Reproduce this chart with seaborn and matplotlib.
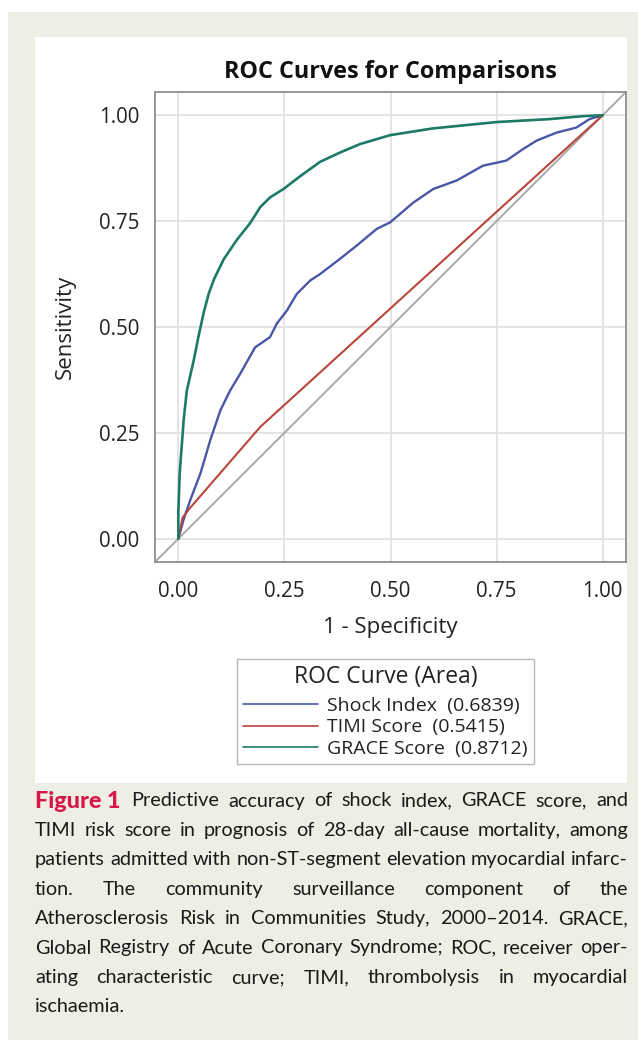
import numpy as np
import pandas as pd
import matplotlib
matplotlib.use("Agg")
import matplotlib.pyplot as plt
import seaborn as sns
from matplotlib.patches import Rectangle
from matplotlib.lines import Line2D

# ---------------- data ----------------
TITLE = "ROC Curves for Comparisons"
X_LABEL = "1 - Specificity"
Y_LABEL = "Sensitivity"
TICKS = [0.0, 0.25, 0.5, 0.75, 1.0]
TICK_LABELS = ["0.00", "0.25", "0.50", "0.75", "1.00"]
LEGEND_TITLE = "ROC Curve (Area)"
SERIES = ["Shock Index", "TIMI Score", "GRACE Score"]
AUC = [0.6839, 0.5415, 0.8712]

shock_fpr = [0, 0.012, 0.028, 0.052, 0.075, 0.099, 0.122, 0.146, 0.181, 0.216,
             0.232, 0.256, 0.279, 0.311, 0.334, 0.381, 0.420, 0.468, 0.499,
             0.554, 0.601, 0.656, 0.718, 0.773, 0.812, 0.844, 0.891, 0.938,
             0.969, 1.0]
shock_tpr = [0, 0.044, 0.091, 0.154, 0.232, 0.303, 0.350, 0.390, 0.452, 0.476,
             0.508, 0.539, 0.578, 0.610, 0.625, 0.661, 0.692, 0.732, 0.747,
             0.794, 0.826, 0.846, 0.881, 0.893, 0.920, 0.940, 0.959, 0.971,
             0.991, 1.0]

timi_fpr = [0, 0.010, 0.027, 0.193, 1.0]
timi_tpr = [0, 0.050, 0.072, 0.264, 1.0]

grace_fpr = [0, 0, 0.003, 0.005, 0.009, 0.0125, 0.020, 0.028, 0.036, 0.048,
             0.060, 0.072, 0.085, 0.107, 0.138, 0.169, 0.193, 0.216, 0.248,
             0.287, 0.334, 0.381, 0.428, 0.499, 0.600, 0.750, 0.875, 0.954, 1.0]
grace_tpr = [0, 0.060, 0.150, 0.180, 0.232, 0.280, 0.350, 0.385, 0.420, 0.480,
             0.535, 0.580, 0.615, 0.660, 0.706, 0.745, 0.783, 0.806, 0.826,
             0.856, 0.890, 0.912, 0.932, 0.953, 0.969, 0.984, 0.991, 0.998, 1.0]

COLORS = ["#4A56A6", "#B8463C", "#1C7A66"]

CAPTION_HEAD = "Figure 1"
CAPTION_LINES = [
    "Predictive accuracy of shock index, GRACE score, and",
    "TIMI risk score in prognosis of 28-day all-cause mortality, among",
    "patients admitted with non-ST-segment elevation myocardial infarc-",
    "tion. The community surveillance component of the",
    "Atherosclerosis Risk in Communities Study, 2000–2014. GRACE,",
    "Global Registry of Acute Coronary Syndrome; ROC, receiver oper-",
    "ating characteristic curve; TIMI, thrombolysis in myocardial",
    "ischaemia.",
]

# ---------------- figure ----------------
sns.set_theme(style="white")
plt.rcParams["font.family"] = ["Open Sans", "DejaVu Sans"]

W, H = 638, 1040
fig = plt.figure(figsize=(W / 100, H / 100), dpi=100)
fig.patch.set_facecolor("white")

def fx(px):
    return px / W

def fy(py):
    return 1 - py / H

BEIGE = "#EFEEE4"
fig.patches.append(Rectangle((fx(8), 0), 1 - fx(8), fy(12), transform=fig.transFigure,
                             facecolor=BEIGE, edgecolor="none", zorder=-10))
fig.patches.append(Rectangle((fx(35), fy(783)), fx(627) - fx(35), fy(37) - fy(783),
                             transform=fig.transFigure, facecolor="white",
                             edgecolor="none", zorder=-9))

ax_l, ax_r, ax_t, ax_b = 155, 626, 92, 562
ax = fig.add_axes([fx(ax_l), fy(ax_b), fx(ax_r) - fx(ax_l), fy(ax_t) - fy(ax_b)])
ax.set_facecolor("white")

lim = (-0.055, 1.055)
ax.set_xlim(lim)
ax.set_ylim(lim)

ax.axline((0, 0), (1, 1), color="#A9A9A9", lw=1.4, zorder=1)

series_data = [(shock_fpr, shock_tpr), (timi_fpr, timi_tpr), (grace_fpr, grace_tpr)]
lws = [1.7, 1.5, 1.9]
for (xs, ys), c, lw in zip(series_data, COLORS, lws):
    sns.lineplot(x=xs, y=ys, sort=False, estimator=None, color=c, lw=lw, ax=ax,
                 legend=False, zorder=3)

ax.set_xticks(TICKS)
ax.set_xticklabels(TICK_LABELS)
ax.set_yticks(TICKS)
ax.set_yticklabels(TICK_LABELS)
ax.grid(True, color="#E2E2E2", lw=1.3)
ax.set_axisbelow(True)
for s in ax.spines.values():
    s.set_color("#8E8E8E")
    s.set_linewidth(1.3)
ax.tick_params(axis="both", direction="out", length=7, width=1.1, color="#8E8E8E",
               labelsize=14.8, labelcolor="#222222")
ax.tick_params(axis="x", pad=7)
ax.tick_params(axis="y", pad=4)

ax.set_title(TITLE, fontsize=16.8, fontweight="bold", color="#111111", pad=10)
ax.set_xlabel(X_LABEL, fontsize=16, color="#222222")
ax.set_ylabel(Y_LABEL, fontsize=16, color="#222222")
ax.xaxis.set_label_coords(0.5, (ax_b - 628) / (ax_b - ax_t))
ax.xaxis.label.set_va("center")
ax.yaxis.set_label_coords((65 - ax_l) / (ax_r - ax_l), 0.5)
ax.yaxis.label.set_va("center")

handles = [Line2D([], [], color=c, lw=1.2) for c in COLORS]
labels = [f"{n}  ({a:.4f})" for n, a in zip(SERIES, AUC)]
leg = ax.legend(handles, labels, title=LEGEND_TITLE, loc="upper left",
                bbox_to_anchor=(fx(237), fy(659)), bbox_transform=fig.transFigure,
                fontsize=14, title_fontsize=16.5, frameon=True, fancybox=False,
                handlelength=3.85, handletextpad=0.5, labelspacing=0.17,
                borderpad=0.3, borderaxespad=0)
leg._legend_box.sep = 6
leg.get_frame().set_edgecolor("#A8A8A8")
leg.get_frame().set_linewidth(1.0)
leg._legend_box.align = "center"
for t in leg.get_texts():
    t.set_color("#222222")
leg.get_title().set_color("#222222")

# ---------------- caption (justified) ----------------
fig.canvas.draw()
renderer = fig.canvas.get_renderer()
CAP_FONT = ["Lato", "DejaVu Sans"]
CAP_SIZE = 14.3
left_px, right_px = 35, 628
line_y0, line_dy = 801, 29.4

def text_width(s, **kw):
    t = fig.text(0, 0, s, fontsize=CAP_SIZE, family=CAP_FONT, **kw)
    w = t.get_window_extent(renderer).width
    t.remove()
    return w

space = text_width("a a") - text_width("aa")
for i, line in enumerate(CAPTION_LINES):
    y = fy(line_y0 + i * line_dy)
    x0 = left_px
    if i == 0:
        head = fig.text(fx(x0), y, CAPTION_HEAD, fontsize=CAP_SIZE + 2.5, family=CAP_FONT,
                        fontweight="black", color="#D6174A", va="center", ha="left")
        x0 += head.get_window_extent(renderer).width + 11
    words = line.split(" ")
    widths = [text_width(w) for w in words]
    last = i == len(CAPTION_LINES) - 1
    if last or len(words) == 1:
        gap = space
    else:
        gap = max((right_px - x0 - sum(widths)) / (len(words) - 1), 0.55 * space)
    x = x0
    for w, wd in zip(words, widths):
        fig.text(fx(x), y, w, fontsize=CAP_SIZE, family=CAP_FONT, color="#1A1A1A",
                 va="center", ha="left")
        x += wd + gap

fig.savefig("out.png", dpi=100, facecolor=fig.get_facecolor())
